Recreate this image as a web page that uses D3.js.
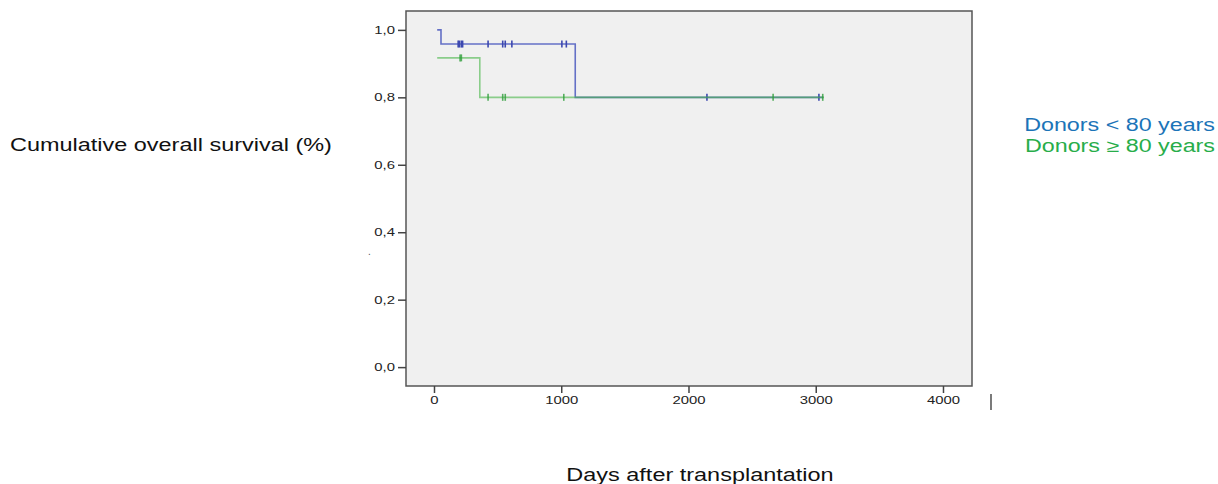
<!DOCTYPE html>
<html>
<head>
<meta charset="utf-8">
<script src="https://cdn.jsdelivr.net/npm/d3@7"></script>
<style>
  body { margin: 0; background: #fff; font-family: "Liberation Sans", Arial, sans-serif; }
  svg text { font-family: "Liberation Sans", Arial, sans-serif; }
</style>
</head>
<body>
<svg id="chart" width="1218" height="484"></svg>
<script>
// Kaplan-Meier steps: survival changes to value[i] at time[i]
const blueTimes = [25, 55, 1110];
const blueValues = [1.0, 0.958, 0.8];
const blueEnd = 3060;
const blueCensored = [190, 200, 215, 225, 425, 540, 560, 612, 1005, 1040, 2145, 3025];

const greenTimes = [25, 360];
const greenValues = [0.917, 0.8];
const greenEnd = 3065;
const greenCensored = [205, 215, 425, 540, 560, 1020, 2665, 3055];

const xTicks = [0, 1000, 2000, 3000, 4000];
const yTicks = [0, 0.2, 0.4, 0.6, 0.8, 1.0];
const legendLabels = ['Donors < 80 years', 'Donors \u2265 80 years'];

const svg = d3.select('#chart');
const box = { left: 406, top: 11, right: 972, bottom: 386 };

const x = d3.scaleLinear().domain([-220, 4228]).range([box.left, box.right]);
const y = d3.scaleLinear().domain([-0.056, 1.056]).range([box.bottom, box.top]);

// the source picture is stretched sideways; widen text the same way
function stretch(sel, factor) {
  sel.each(function () {
    const w = this.getComputedTextLength();
    d3.select(this).attr('textLength', w * factor).attr('lengthAdjust', 'spacingAndGlyphs');
  });
}

svg.append('rect')
  .attr('x', box.left).attr('y', box.top)
  .attr('width', box.right - box.left).attr('height', box.bottom - box.top)
  .attr('fill', '#f0f0f0').attr('stroke', '#555').attr('stroke-width', 1.5);

// axes
const yAxis = d3.axisLeft(y).tickValues(yTicks).tickSize(8).tickPadding(3)
  .tickFormat(d => d3.format('.1f')(d).replace('.', ','));
const gy = svg.append('g').attr('transform', `translate(${box.left},0)`).call(yAxis);
gy.select('.domain').remove();

const xAxis = d3.axisBottom(x).tickValues(xTicks).tickSize(7).tickPadding(3).tickFormat(d3.format('d'));
const gx = svg.append('g').attr('transform', `translate(0,${box.bottom})`).call(xAxis);
gx.select('.domain').remove();

[gx, gy].forEach(g => {
  g.selectAll('line').attr('stroke', '#444').attr('stroke-width', 1.5);
  g.selectAll('text').attr('fill', '#222').style('font-size', '11px');
  stretch(g.selectAll('text'), 1.35);
});

function stepPath(times, values, end) {
  const pts = [];
  times.forEach((t, i) => {
    if (i > 0) pts.push([t, values[i - 1]]);
    pts.push([t, values[i]]);
  });
  pts.push([end, values[values.length - 1]]);
  return d3.line().x(d => x(d[0])).y(d => y(d[1]))(pts);
}

function survAt(times, values, t) {
  let v = values[0];
  times.forEach((tt, i) => { if (t >= tt) v = values[i]; });
  return v;
}

const series = [
  { times: blueTimes, values: blueValues, end: blueEnd, cens: blueCensored, line: '#6470c6', mark: '#3c48b0', op: 1 },
  { times: greenTimes, values: greenValues, end: greenEnd, cens: greenCensored, line: '#4cb84c', mark: '#2e9e3a', op: 0.62 }
];

series.forEach(s => {
  svg.append('path')
    .attr('d', stepPath(s.times, s.values, s.end))
    .attr('fill', 'none').attr('stroke', s.line).attr('stroke-width', 1.6)
    .attr('stroke-opacity', s.op);
  svg.append('g').selectAll('line').data(s.cens).join('line')
    .attr('x1', d => x(d)).attr('x2', d => x(d))
    .attr('y1', d => y(survAt(s.times, s.values, d)) - 3.5)
    .attr('y2', d => y(survAt(s.times, s.values, d)) + 3.5)
    .attr('stroke', s.mark).attr('stroke-width', 1.6).attr('stroke-opacity', s.op === 1 ? 1 : 0.8);
});

// titles
const yTitle = svg.append('text').attr('x', 10).attr('y', 151)
  .style('font-size', '17.5px').attr('fill', '#111')
  .text('Cumulative overall survival (%)');
stretch(yTitle, 1.34);
const xTitle = svg.append('text').attr('x', 700).attr('y', 481).attr('text-anchor', 'middle')
  .style('font-size', '17.5px').attr('fill', '#111')
  .text('Days after transplantation');
stretch(xTitle, 1.34);

// legend
const legendColors = ['#1b74b8', '#27ad4a'];
const legend = svg.append('g').selectAll('text').data(legendLabels).join('text')
  .attr('x', 1215).attr('y', (d, i) => 131 + i * 21).attr('text-anchor', 'end')
  .style('font-size', '17.5px').attr('fill', (d, i) => legendColors[i])
  .text(d => d);
stretch(legend, 1.33);

// stray marks from the source image
svg.append('text').attr('x', 368).attr('y', 255).style('font-size', '10px').attr('fill', '#555').text('.');
svg.append('line').attr('x1', 991).attr('x2', 991).attr('y1', 394).attr('y2', 410)
  .attr('stroke', '#222').attr('stroke-width', 1.2);
</script>
</body>
</html>
